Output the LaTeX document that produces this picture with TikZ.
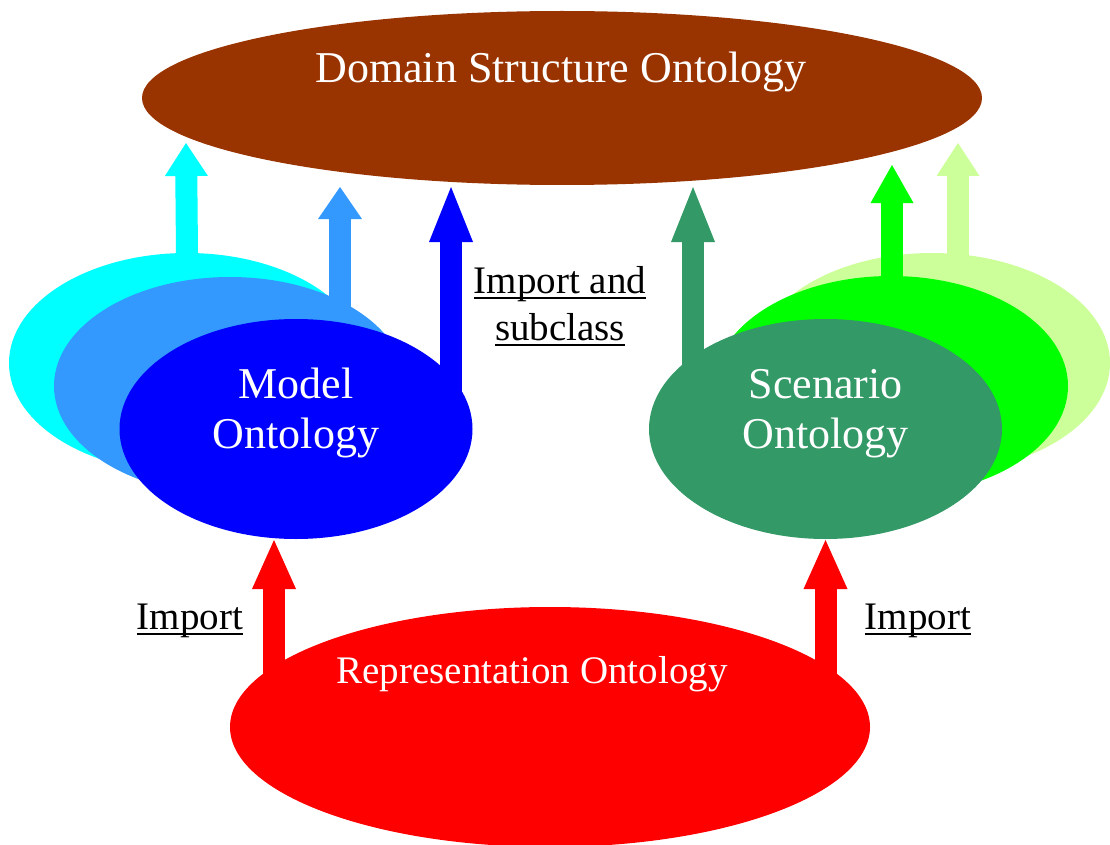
\documentclass[tikz,border=0pt]{standalone}
\usepackage{fontspec}
\setmainfont{Liberation Serif}
\usetikzlibrary{shapes.geometric,arrows.meta}
\definecolor{cBrown}{HTML}{993300}
\definecolor{cCyan}{HTML}{00FFFF}
\definecolor{cLBlue}{HTML}{3399FF}
\definecolor{cBlue}{HTML}{0000FF}
\definecolor{cSea}{HTML}{339966}
\definecolor{cGreen}{HTML}{00FF00}
\definecolor{cLGreen}{HTML}{CCFF99}
\definecolor{cRed}{HTML}{FF0000}
\newcommand\myul[1]{\setbox0=\hbox{#1}\rlap{\rule[-5.5pt]{\wd0}{1.8pt}}\box0}
\tikzset{
  ell/.style={ellipse, draw=none, inner sep=0pt, outer sep=0pt},
  ttl/.style={text=white, font=\fontsize{44}{50}\selectfont, align=center, inner sep=0pt, anchor=base},
  lbl/.style={text=black, font=\fontsize{39}{47}\selectfont, align=center, inner sep=0pt, anchor=base},
  blk/.style n args={3}{line width=22pt, line cap=butt, draw=#1,
     -{Triangle[width=#2, length=#3, line width=0pt, fill=#1]}},
}
\begin{document}
\begin{tikzpicture}[x=1pt,y=-1pt]
\useasboundingbox (0,0) rectangle (1110,845);
% top
\node[ell, fill=cBrown, minimum width=840pt, minimum height=174pt] (dom) at (562,98) {};
\node[ttl] (domt) at (561,83) {Domain Structure Ontology};
% arrow coordinates
\coordinate (tA) at (186,143);
\coordinate (sB) at (340,330); \coordinate (tB) at (340,187);
\coordinate (sC) at (451,420); \coordinate (tC) at (451,187);
\coordinate (sD) at (693,420); \coordinate (tD) at (693,187);
\coordinate (sE) at (892,300); \coordinate (tE) at (892,165);
\coordinate (sF) at (958,275); \coordinate (tF) at (958,143);
\coordinate (sG) at (274,700); \coordinate (tG) at (274,540);
\coordinate (sH) at (825.5,700); \coordinate (tH) at (825.5,540);
% left stack
\node[ell, fill=cCyan, minimum width=356pt, minimum height=220pt] (cy) at (187,363) {};
\draw[blk={cCyan}{43pt}{33pt}] (cy.north) -- (tA);
\node[ell, fill=cLBlue, minimum width=352pt, minimum height=218pt] (lb) at (230,386) {};
\draw[blk={cLBlue}{44pt}{32pt}] (sB) -- (tB);
\node[ell, fill=cBlue, minimum width=353pt, minimum height=220pt] (mo) at (296,429) {};
\draw[blk={cBlue}{44pt}{55pt}] (sC) -- (tC);
\node[ttl] (mot) at (296,448) {Model\\Ontology};
% right stack
\node[ell, fill=cLGreen, minimum width=356pt, minimum height=220pt] (lg) at (932,363) {};
\draw[blk={cLGreen}{43pt}{33pt}] (sF) -- (tF);
\node[ell, fill=cGreen, minimum width=354pt, minimum height=220pt] (gr) at (891,386) {};
\draw[blk={cGreen}{43pt}{38pt}] (sE) -- (tE);
\node[ell, fill=cSea, minimum width=353pt, minimum height=220pt] (sc) at (825.5,429) {};
\draw[blk={cSea}{44pt}{55pt}] (sD) -- (tD);
\node[ttl] (sct) at (825.5,448) {Scenario\\Ontology};
% bottom
\node[ell, fill=cRed, minimum width=640pt, minimum height=240pt] (rep) at (550,727) {};
\draw[blk={cRed}{44pt}{49pt}] (sG) -- (tG);
\draw[blk={cRed}{44pt}{49pt}] (sH) -- (tH);
\node[ttl, font=\fontsize{39}{47}\selectfont] (rept) at (532,683) {Representation Ontology};
% labels
\node[lbl] (l1) at (560,340) {\myul{Import and}\\\myul{subclass}};
\node[lbl] (l2) at (190,629) {\myul{Import}};
\node[lbl] (l3) at (918,629) {\myul{Import}};
\end{tikzpicture}
\end{document}
